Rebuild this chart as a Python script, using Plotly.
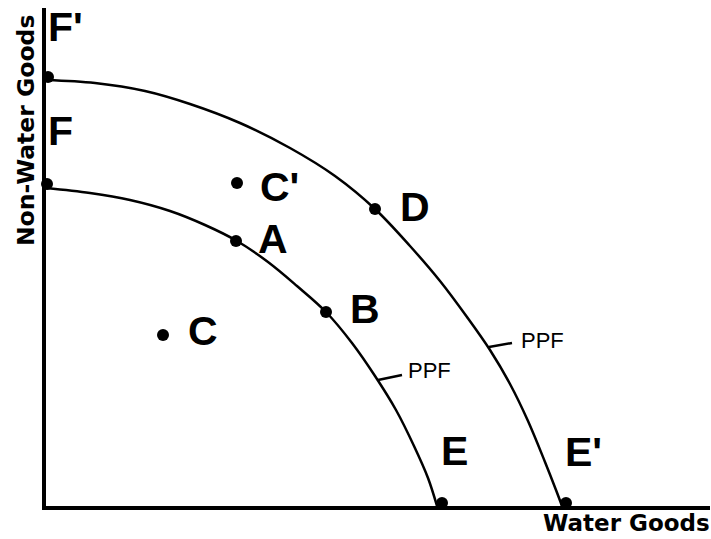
import plotly.graph_objects as go

# ---- data (chart units: origin at the axes corner) ----
inner_x = [0, 44, 84, 124, 159, 191, 222, 251, 280, 306, 329, 350, 368, 382, 391]
inner_y = [318, 313, 306, 295, 281, 265, 244, 220, 194, 163, 130, 96, 60, 28, 0]

outer_x = [0, 49, 99, 144, 194, 244, 289, 329, 364, 394, 421, 444, 464, 482, 499, 510, 516]
outer_y = [426, 423, 415, 402, 383, 358, 330, 297, 260, 225, 189, 156, 122, 85, 44, 16, 0]

point_names = ["F'", "F", "C'", "A", "D", "B", "C", "E", "E'"]
point_x = [2, 1, 191, 190, 329, 280, 117, 396, 520]
point_y = [429, 322, 323, 265, 297, 194, 171, 3, 3]

label_x = [2, 2, 214, 212, 354, 304, 142, 395, 519]
label_y = [475, 371, 315, 263, 295, 193, 171, 51, 50]

ppf_tick_inner_x = [332, 356]
ppf_tick_inner_y = [126, 131]
ppf_tick_outer_x = [443, 466]
ppf_tick_outer_y = [159, 163]
ppf_label_x = [362, 475]
ppf_label_y = [134, 164]
ppf_labels = ["PPF", "PPF"]

x_title = "Water Goods"
y_title = "Non-Water Goods"

fig = go.Figure()

curve_line = dict(color="black", width=2.5, shape="spline", smoothing=1.0)
fig.add_trace(go.Scatter(x=inner_x, y=inner_y, mode="lines", line=curve_line,
                         hoverinfo="skip", cliponaxis=False))
fig.add_trace(go.Scatter(x=outer_x, y=outer_y, mode="lines", line=curve_line,
                         hoverinfo="skip", cliponaxis=False))
fig.add_trace(go.Scatter(x=ppf_tick_inner_x, y=ppf_tick_inner_y, mode="lines",
                         line=dict(color="black", width=2.5), hoverinfo="skip"))
fig.add_trace(go.Scatter(x=ppf_tick_outer_x, y=ppf_tick_outer_y, mode="lines",
                         line=dict(color="black", width=2.5), hoverinfo="skip"))

fig.add_trace(go.Scatter(x=point_x, y=point_y, mode="markers",
                         marker=dict(color="black", size=12),
                         cliponaxis=False, hoverinfo="skip"))

fig.add_trace(go.Scatter(x=label_x, y=label_y, mode="text", text=point_names,
                         textposition="middle right",
                         textfont=dict(family="Liberation Sans", size=41, color="black",
                                       weight="bold"),
                         cliponaxis=False, hoverinfo="skip"))

fig.add_trace(go.Scatter(x=ppf_label_x, y=ppf_label_y, mode="text", text=ppf_labels,
                         textposition="middle right",
                         textfont=dict(family="Liberation Sans", size=22, color="black"),
                         cliponaxis=False, hoverinfo="skip"))

fig.add_annotation(text=x_title, xref="paper", yref="paper", x=1.003, y=-0.005,
                   xanchor="right", yanchor="top", showarrow=False,
                   font=dict(family="DejaVu Sans", size=23, color="black", weight="bold"))
fig.add_annotation(text=y_title, xref="paper", yref="paper", x=-0.030, y=0.755,
                   xanchor="center", yanchor="middle", textangle=-90, showarrow=False,
                   font=dict(family="DejaVu Sans", size=23.5, color="black", weight="bold"))

axis_common = dict(showgrid=False, zeroline=False, showticklabels=False, ticks="",
                   showline=True, linecolor="black", linewidth=4, mirror=False,
                   fixedrange=True)
fig.update_layout(
    width=711, height=539,
    margin=dict(l=46, r=1, t=8, b=33),
    paper_bgcolor="white", plot_bgcolor="white",
    showlegend=False,
    xaxis=dict(range=[0, 664], **axis_common),
    yaxis=dict(range=[0, 498], **axis_common),
)

fig.write_html("out.html", config={"displayModeBar": False},
               post_script="document.body.style.margin='0';document.body.style.overflow='hidden';")
